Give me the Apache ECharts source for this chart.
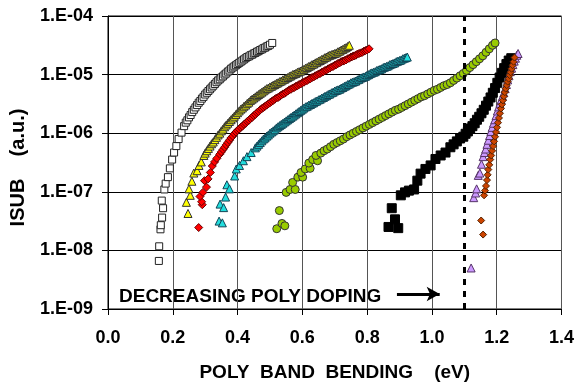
<!DOCTYPE html>
<html><head><meta charset="utf-8">
<script src="https://cdn.jsdelivr.net/npm/echarts@6/dist/echarts.min.js"></script>
<style>html,body{margin:0;padding:0;background:#fff}#c{width:577px;height:387px}</style>
</head><body><div id="c"></div>
<script>
// Values: x = poly band bending (eV), ly = log10(ISUB, a.u.)
const sqOpenX = [0.157,0.158,0.162,0.163,0.167,0.170,0.166,0.174,0.178,0.185,0.191,0.198,0.204,0.211,0.218,0.227,0.235,0.240,0.245,0.250,0.255,0.260,0.265,0.270,0.275,0.280,0.285,0.290,0.295,0.300,0.305,0.310,0.315,0.320,0.325,0.330,0.335,0.340,0.345,0.350,0.355,0.360,0.365,0.370,0.375,0.380,0.385,0.390,0.395,0.400,0.405,0.410,0.415,0.420,0.425,0.430,0.435,0.440,0.445,0.450,0.455,0.460,0.465,0.470,0.475,0.480,0.485,0.490,0.495,0.500,0.507];
const sqOpenLy = [-8.18,-7.93,-7.64,-7.57,-7.44,-7.28,-7.15,-6.96,-6.86,-6.75,-6.60,-6.45,-6.33,-6.22,-6.10,-5.99,-5.88,-5.82,-5.78,-5.73,-5.69,-5.64,-5.60,-5.56,-5.52,-5.48,-5.45,-5.41,-5.38,-5.34,-5.31,-5.28,-5.25,-5.22,-5.19,-5.16,-5.13,-5.10,-5.08,-5.05,-5.03,-5.00,-4.98,-4.95,-4.93,-4.90,-4.88,-4.86,-4.84,-4.82,-4.80,-4.78,-4.76,-4.74,-4.72,-4.70,-4.69,-4.67,-4.66,-4.64,-4.63,-4.61,-4.60,-4.58,-4.57,-4.55,-4.54,-4.52,-4.51,-4.49,-4.46];

const triYelX = [0.247,0.242,0.254,0.250,0.259,0.265,0.275,0.281,0.288,0.296,0.300,0.305,0.310,0.315,0.320,0.325,0.330,0.335,0.340,0.345,0.350,0.355,0.360,0.365,0.370,0.375,0.380,0.385,0.390,0.395,0.400,0.405,0.410,0.415,0.420,0.425,0.430,0.435,0.440,0.445,0.450,0.455,0.460,0.465,0.470,0.475,0.480,0.485,0.490,0.495,0.500,0.505,0.510,0.515,0.520,0.525,0.530,0.535,0.540,0.545,0.550,0.555,0.560,0.565,0.570,0.575,0.580,0.585,0.590,0.595,0.600,0.605,0.610,0.615,0.620,0.625,0.630,0.635,0.640,0.645,0.650,0.655,0.660,0.665,0.670,0.675,0.680,0.685,0.690,0.695,0.700,0.705,0.710,0.715,0.720,0.725,0.730,0.735,0.740,0.745];
const triYelLy = [-7.37,-7.18,-7.06,-6.95,-6.82,-6.68,-6.64,-6.55,-6.49,-6.38,-6.34,-6.30,-6.26,-6.22,-6.18,-6.15,-6.11,-6.07,-6.03,-6.00,-5.96,-5.93,-5.89,-5.86,-5.83,-5.80,-5.77,-5.74,-5.71,-5.68,-5.65,-5.62,-5.59,-5.57,-5.54,-5.52,-5.49,-5.47,-5.44,-5.42,-5.40,-5.38,-5.36,-5.34,-5.32,-5.30,-5.28,-5.26,-5.24,-5.23,-5.21,-5.20,-5.18,-5.17,-5.15,-5.14,-5.12,-5.11,-5.09,-5.08,-5.06,-5.05,-5.03,-5.02,-5.00,-4.99,-4.98,-4.96,-4.95,-4.94,-4.92,-4.91,-4.89,-4.88,-4.86,-4.85,-4.83,-4.82,-4.80,-4.79,-4.77,-4.76,-4.74,-4.73,-4.71,-4.70,-4.68,-4.67,-4.66,-4.65,-4.64,-4.63,-4.61,-4.60,-4.58,-4.57,-4.55,-4.54,-4.52,-4.50];

const diaRedX = [0.280,0.291,0.289,0.284,0.293,0.304,0.298,0.309,0.316,0.322,0.329,0.336,0.345,0.350,0.355,0.360,0.365,0.370,0.375,0.380,0.385,0.390,0.395,0.400,0.405,0.410,0.415,0.420,0.425,0.430,0.435,0.440,0.445,0.450,0.455,0.460,0.465,0.470,0.475,0.480,0.485,0.490,0.495,0.500,0.505,0.510,0.515,0.520,0.525,0.530,0.535,0.540,0.545,0.550,0.555,0.560,0.565,0.570,0.575,0.580,0.585,0.590,0.595,0.600,0.605,0.610,0.615,0.620,0.625,0.630,0.635,0.640,0.645,0.650,0.655,0.660,0.665,0.670,0.675,0.680,0.685,0.690,0.695,0.700,0.705,0.710,0.715,0.720,0.725,0.730,0.735,0.740,0.745,0.750,0.755,0.760,0.765,0.770,0.775,0.780,0.785,0.790,0.795,0.800,0.806];
const diaRedLy = [-7.61,-7.22,-7.17,-7.08,-7.01,-6.92,-6.81,-6.78,-6.67,-6.56,-6.49,-6.43,-6.36,-6.32,-6.28,-6.24,-6.20,-6.16,-6.12,-6.08,-6.05,-6.01,-5.98,-5.95,-5.93,-5.90,-5.88,-5.85,-5.83,-5.80,-5.78,-5.75,-5.73,-5.70,-5.68,-5.65,-5.63,-5.60,-5.58,-5.56,-5.54,-5.52,-5.50,-5.48,-5.46,-5.44,-5.42,-5.40,-5.39,-5.37,-5.35,-5.33,-5.32,-5.30,-5.28,-5.26,-5.25,-5.23,-5.22,-5.20,-5.19,-5.17,-5.16,-5.14,-5.13,-5.11,-5.10,-5.08,-5.07,-5.05,-5.04,-5.02,-5.01,-4.99,-4.98,-4.96,-4.95,-4.93,-4.92,-4.90,-4.89,-4.87,-4.86,-4.84,-4.83,-4.81,-4.80,-4.78,-4.77,-4.76,-4.75,-4.73,-4.72,-4.70,-4.69,-4.68,-4.67,-4.65,-4.64,-4.63,-4.62,-4.60,-4.59,-4.58,-4.56];

const triCyanX = [0.343,0.353,0.346,0.357,0.363,0.367,0.375,0.391,0.396,0.406,0.418,0.429,0.442,0.455,0.460,0.465,0.470,0.475,0.480,0.485,0.490,0.495,0.500,0.505,0.510,0.515,0.520,0.525,0.530,0.535,0.540,0.545,0.550,0.555,0.560,0.565,0.570,0.575,0.580,0.585,0.590,0.595,0.600,0.605,0.610,0.615,0.620,0.625,0.630,0.635,0.640,0.645,0.650,0.655,0.660,0.665,0.670,0.675,0.680,0.685,0.690,0.695,0.700,0.705,0.710,0.715,0.720,0.725,0.730,0.735,0.740,0.745,0.750,0.755,0.760,0.765,0.770,0.775,0.780,0.785,0.790,0.795,0.800,0.805,0.810,0.815,0.820,0.825,0.830,0.835,0.840,0.845,0.850,0.855,0.860,0.865,0.870,0.875,0.880,0.885,0.890,0.895,0.900,0.905,0.910,0.915,0.920,0.924];
const triCyanLy = [-7.50,-7.53,-7.21,-7.27,-7.09,-6.88,-6.95,-6.73,-6.61,-6.55,-6.47,-6.40,-6.33,-6.25,-6.22,-6.19,-6.16,-6.13,-6.10,-6.08,-6.05,-6.03,-6.00,-5.98,-5.96,-5.94,-5.91,-5.89,-5.87,-5.85,-5.83,-5.81,-5.79,-5.77,-5.75,-5.73,-5.71,-5.69,-5.67,-5.65,-5.63,-5.61,-5.59,-5.57,-5.55,-5.54,-5.52,-5.51,-5.49,-5.48,-5.46,-5.45,-5.43,-5.42,-5.40,-5.39,-5.37,-5.36,-5.34,-5.33,-5.31,-5.30,-5.28,-5.27,-5.26,-5.25,-5.23,-5.22,-5.20,-5.19,-5.17,-5.16,-5.14,-5.13,-5.12,-5.11,-5.09,-5.08,-5.06,-5.05,-5.04,-5.03,-5.01,-5.00,-4.98,-4.97,-4.96,-4.95,-4.93,-4.92,-4.91,-4.90,-4.88,-4.87,-4.86,-4.85,-4.83,-4.82,-4.81,-4.80,-4.78,-4.77,-4.76,-4.75,-4.73,-4.72,-4.71,-4.70];

const cirGrnX = [0.521,0.537,0.546,0.529,0.550,0.562,0.578,0.570,0.586,0.601,0.596,0.609,0.624,0.620,0.632,0.647,0.642,0.657,0.667,0.677,0.687,0.697,0.707,0.717,0.727,0.737,0.747,0.757,0.767,0.777,0.787,0.797,0.807,0.817,0.827,0.837,0.847,0.857,0.867,0.877,0.887,0.897,0.907,0.917,0.927,0.937,0.947,0.957,0.967,0.977,0.987,0.997,1.007,1.017,1.027,1.037,1.047,1.057,1.067,1.077,1.087,1.097,1.107,1.117,1.127,1.137,1.147,1.157,1.167,1.177,1.187,1.195];
const cirGrnLy = [-7.63,-7.54,-7.58,-7.32,-7.01,-6.96,-6.96,-6.84,-6.75,-6.75,-6.67,-6.61,-6.60,-6.51,-6.45,-6.47,-6.38,-6.34,-6.30,-6.27,-6.23,-6.19,-6.16,-6.13,-6.10,-6.06,-6.03,-6.00,-5.97,-5.94,-5.91,-5.88,-5.85,-5.82,-5.79,-5.76,-5.73,-5.70,-5.67,-5.64,-5.61,-5.59,-5.56,-5.53,-5.50,-5.47,-5.44,-5.41,-5.38,-5.36,-5.33,-5.30,-5.27,-5.25,-5.22,-5.19,-5.17,-5.14,-5.10,-5.06,-5.02,-4.98,-4.93,-4.88,-4.83,-4.78,-4.73,-4.68,-4.62,-4.56,-4.50,-4.46];

const sqBlkX = [0.866,0.896,0.886,0.876,0.904,0.917,0.929,0.945,0.955,0.965,0.980,0.996,1.011,1.027,1.042,1.057,1.067,1.077,1.087,1.097,1.104,1.111,1.118,1.125,1.132,1.139,1.146,1.153,1.160,1.167,1.174,1.181,1.188,1.195,1.202,1.209,1.216,1.223,1.230,1.237,1.245];
const sqBlkLy = [-7.60,-7.62,-7.47,-7.28,-7.06,-7.01,-6.98,-6.96,-6.81,-6.69,-6.61,-6.55,-6.44,-6.38,-6.33,-6.24,-6.19,-6.14,-6.09,-6.06,-6.01,-5.97,-5.92,-5.88,-5.83,-5.77,-5.72,-5.66,-5.60,-5.53,-5.46,-5.39,-5.31,-5.23,-5.14,-5.05,-4.97,-4.89,-4.82,-4.76,-4.72];

const triLavX = [1.121,1.129,1.135,1.138,1.143,1.148,1.153,1.158,1.162,1.166,1.170,1.174,1.178,1.182,1.186,1.190,1.194,1.198,1.202,1.206,1.210,1.214,1.218,1.222,1.226,1.230,1.234,1.238,1.242,1.246,1.250,1.254,1.258,1.262,1.266];
const triLavLy = [-8.30,-7.10,-7.02,-6.95,-6.72,-6.68,-6.53,-6.40,-6.33,-6.27,-6.19,-6.12,-6.04,-5.97,-5.90,-5.83,-5.77,-5.70,-5.62,-5.55,-5.49,-5.43,-5.37,-5.31,-5.24,-5.17,-5.09,-5.02,-4.95,-4.89,-4.83,-4.77,-4.72,-4.67,-4.64];

const diaBrnX = [1.152,1.158,1.161,1.164,1.167,1.170,1.172,1.174,1.177,1.180,1.183,1.186,1.189,1.192,1.195,1.198,1.201,1.204,1.207,1.210,1.213,1.216,1.219,1.222,1.225,1.228,1.231,1.234,1.237,1.240,1.243,1.246,1.249,1.252,1.255];
const diaBrnLy = [-7.49,-7.73,-7.06,-6.98,-6.90,-6.80,-6.71,-6.62,-6.54,-6.45,-6.38,-6.30,-6.22,-6.14,-6.06,-5.98,-5.90,-5.82,-5.74,-5.66,-5.58,-5.51,-5.44,-5.37,-5.30,-5.24,-5.18,-5.12,-5.07,-5.01,-4.96,-4.90,-4.84,-4.78,-4.71];

const xTicks = [0.0,0.2,0.4,0.6,0.8,1.0,1.2,1.4];
const yExp = [-9,-8,-7,-6,-5,-4];
const dopingLimitX = 1.1;
const arrowFromX = 0.892, arrowToX = 1.024, arrowY = 1.8e-9;

const FONT = '"Liberation Sans", Arial, sans-serif';
function pts(xs, lys){ return xs.map((x,i)=>[x, Math.pow(10, lys[i])]); }
function sc(name, xs, lys, symbol, size, fill, border, bw){
  return {
    name, type:'scatter', data: pts(xs,lys), symbol, symbolSize:size,
    itemStyle:{color:fill, borderColor:border, borderWidth:bw, opacity:1},
    emphasis:{disabled:true}, silent:true, z:3
  };
}
const chart = echarts.init(document.getElementById('c'), null, {renderer:'canvas'});
chart.setOption({
  animation:false,
  backgroundColor:'#fff',
  grid:{left:108, right:14, top:16, bottom:76, show:true, borderColor:'#000', borderWidth:1, backgroundColor:'transparent'},
  xAxis:{
    type:'value', min:xTicks[0], max:xTicks[xTicks.length-1], interval:0.2,
    name:'POLY  BAND  BENDING    (eV)', nameLocation:'middle', nameGap:54,
    nameTextStyle:{fontFamily:FONT, fontWeight:'bold', fontSize:19, color:'#000'},
    axisLine:{show:true, onZero:false, lineStyle:{color:'#000', width:1}},
    axisTick:{show:true, inside:false, length:6, lineStyle:{color:'#000'}},
    axisLabel:{fontFamily:FONT, fontWeight:'bold', fontSize:18, color:'#000', margin:20, formatter:v=>v.toFixed(1)},
    splitLine:{show:true, lineStyle:{color:'#555', width:1}}
  },
  yAxis:{
    type:'log', logBase:10, min:Math.pow(10,yExp[0]), max:Math.pow(10,yExp[yExp.length-1]),
    name:'ISUB    (a.u.)', nameLocation:'middle', nameGap:80,
    nameTextStyle:{fontFamily:FONT, fontWeight:'bold', fontSize:20, color:'#000', padding:[0,10,0,0]},
    axisLine:{show:true, onZero:false, lineStyle:{color:'#000', width:1}},
    axisTick:{show:true, inside:false, length:6, lineStyle:{color:'#000'}},
    minorTick:{show:false},
    axisLabel:{fontFamily:FONT, fontWeight:'bold', fontSize:18, color:'#000', margin:15,
      formatter:v=>{const e=Math.round(Math.log10(v)); const a=Math.abs(e); return '1.E'+(e<0?'-':'+')+(a<10?'0':'')+a;}},
    splitLine:{show:true, lineStyle:{color:'#000', width:1}}
  },
  series:[
    sc('open squares', sqOpenX, sqOpenLy, 'rect', 7, '#ffffff', '#222', 1),
    sc('yellow triangles', triYelX, triYelLy, 'triangle', 8, '#ffff00', '#333', 1),
    sc('red diamonds', diaRedX, diaRedLy, 'diamond', 8, '#ff0000', '#600', 1),
    sc('cyan triangles', triCyanX, triCyanLy, 'triangle', 8, '#22dddd', '#145', 1),
    sc('green circles', cirGrnX, cirGrnLy, 'circle', 8, '#99cc00', '#333', 1),
    sc('black squares', sqBlkX, sqBlkLy, 'rect', 9, '#000000', '#000', 1),
    sc('lavender triangles', triLavX, triLavLy, 'triangle', 8, '#cc99ff', '#536', 1),
    sc('brown diamonds', diaBrnX, diaBrnLy, 'diamond', 7, '#cc4400', '#520', 1),
    {
      type:'line', data:[], silent:true, z:4,
      markLine:{
        silent:true, animation:false, label:{show:false},
        data:[
          [{coord:[dopingLimitX, Math.pow(10,yExp[0])], symbol:'none'},{coord:[dopingLimitX, Math.pow(10,yExp[yExp.length-1])], symbol:'none'}],
          [{coord:[arrowFromX, arrowY], symbol:'none', lineStyle:{type:'solid', width:3, color:'#000'}},{coord:[arrowToX, arrowY], symbol:'arrow', symbolSize:[11,13]}]
        ],
        lineStyle:{color:'#000', width:3, type:[6,6]}
      }
    }
  ],
  graphic:[{type:'text', left:119, top:287, silent:true,
    style:{text:'DECREASING POLY DOPING', font:'bold 19px '+FONT, fill:'#000'}}]
});
</script></body></html>
